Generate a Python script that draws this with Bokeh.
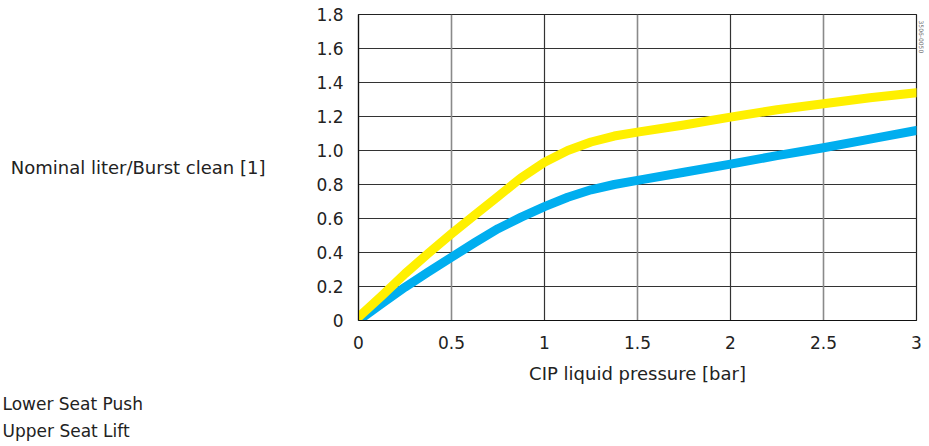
from bokeh.plotting import figure
from bokeh.models import FixedTicker, Grid, Range1d, Title
from bokeh.embed import file_html
from bokeh.resources import INLINE

# ---- data ----
pressure = [0, 0.125, 0.25, 0.375, 0.5, 0.625, 0.75, 0.875, 1.0, 1.125, 1.25,
            1.375, 1.5, 1.75, 2.0, 2.25, 2.5, 2.75, 3.0]
upper_seat_lift = [0.02, 0.145, 0.275, 0.395, 0.51, 0.62, 0.73, 0.84, 0.931, 1.0,
                   1.05, 1.085, 1.108, 1.15, 1.196, 1.24, 1.275, 1.31, 1.34]
lower_seat_push = [0.0, 0.1, 0.196, 0.285, 0.372, 0.458, 0.54, 0.608, 0.67, 0.725,
                   0.769, 0.80, 0.824, 0.872, 0.92, 0.97, 1.016, 1.067, 1.118]

x_ticks = [0, 0.5, 1, 1.5, 2, 2.5, 3]
x_tick_labels = ["0", "0.5", "1", "1.5", "2", "2.5", "3"]
y_ticks = [0, 0.2, 0.4, 0.6, 0.8, 1.0, 1.2, 1.4, 1.6, 1.8]
y_tick_labels = ["0", "0.2", "0.4", "0.6", "0.8", "1.0", "1.2", "1.4", "1.6", "1.8"]
x_title = "CIP liquid pressure [bar]"
y_title = "Nominal liter/Burst clean [1]"
legend_labels = ["Lower Seat Push", "Upper Seat Lift"]
code_text = "3506-0050"

FONT = "DejaVu Sans"
TXT = "#222222"

p = figure(frame_width=558, frame_height=306,
           x_range=Range1d(0, 3), y_range=Range1d(0, 1.8),
           output_backend="svg", toolbar_location=None,
           min_border_left=358, min_border_right=13,
           min_border_top=14, min_border_bottom=126)
p.background_fill_color = "white"
p.border_fill_color = "white"
p.outline_line_color = "#222222"
p.outline_line_width = 1.2

# grids
p.xgrid.visible = False
p.ygrid.ticker = FixedTicker(ticks=y_ticks[1:-1])
p.ygrid.grid_line_color = "#333333"
p.ygrid.grid_line_width = 1.2
p.add_layout(Grid(dimension=0, ticker=FixedTicker(ticks=[1, 2]),
                  grid_line_color="#333333", grid_line_width=1.2))
p.add_layout(Grid(dimension=0, ticker=FixedTicker(ticks=[0.5, 1.5, 2.5]),
                  grid_line_color="#8a8a8a", grid_line_width=1.6))

# axes
for ax in (p.xaxis[0], p.yaxis[0]):
    ax.major_tick_line_color = None
    ax.minor_tick_line_color = None
    ax.axis_line_color = "#111111"
    ax.axis_line_width = 1.2
    ax.major_label_text_font = FONT
    ax.major_label_text_font_size = "17px"
    ax.major_label_text_color = TXT
    ax.major_label_standoff = 9

p.xaxis.ticker = FixedTicker(ticks=x_ticks)
p.xaxis.major_label_overrides = {t: l for t, l in zip(x_ticks, x_tick_labels)}
p.yaxis.ticker = FixedTicker(ticks=y_ticks)
p.yaxis.major_label_overrides = {t: l for t, l in zip(y_ticks, y_tick_labels)}

p.xaxis.axis_label = x_title
p.xaxis.axis_label_text_font = FONT
p.xaxis.axis_label_text_font_style = "normal"
p.xaxis.axis_label_text_font_size = "18px"
p.xaxis.axis_label_text_color = TXT
p.xaxis.axis_label_standoff = 11

p.yaxis.axis_label = y_title
p.yaxis.axis_label_orientation = "horizontal"
p.yaxis.axis_label_text_font = FONT
p.yaxis.axis_label_text_font_style = "normal"
p.yaxis.axis_label_text_font_size = "18px"
p.yaxis.axis_label_text_color = TXT
p.yaxis.axis_label_standoff = 48

# lines
p.line(pressure, lower_seat_push, line_color="#00AEEF", line_width=9,
       line_cap="round", line_join="round")
p.line(pressure, upper_seat_lift, line_color="#FFF000", line_width=9,
       line_cap="round", line_join="round")

# legend texts at bottom left, as titles in the bottom panel
for i, lab in enumerate(legend_labels):
    t = Title(text=lab, align="left", offset=-356, text_font=FONT,
              text_font_size="17px", text_font_style="normal",
              text_color=TXT, standoff=(10 if i == 0 else 0))
    p.add_layout(t, "below")

# small rotated code at top right
p.add_layout(Title(text=code_text, align="left", offset=6, text_font=FONT,
                   text_font_size="6px", text_font_style="normal",
                   text_color="#666666", standoff=4), "right")

open("out.html", "w").write(file_html(p, INLINE))
